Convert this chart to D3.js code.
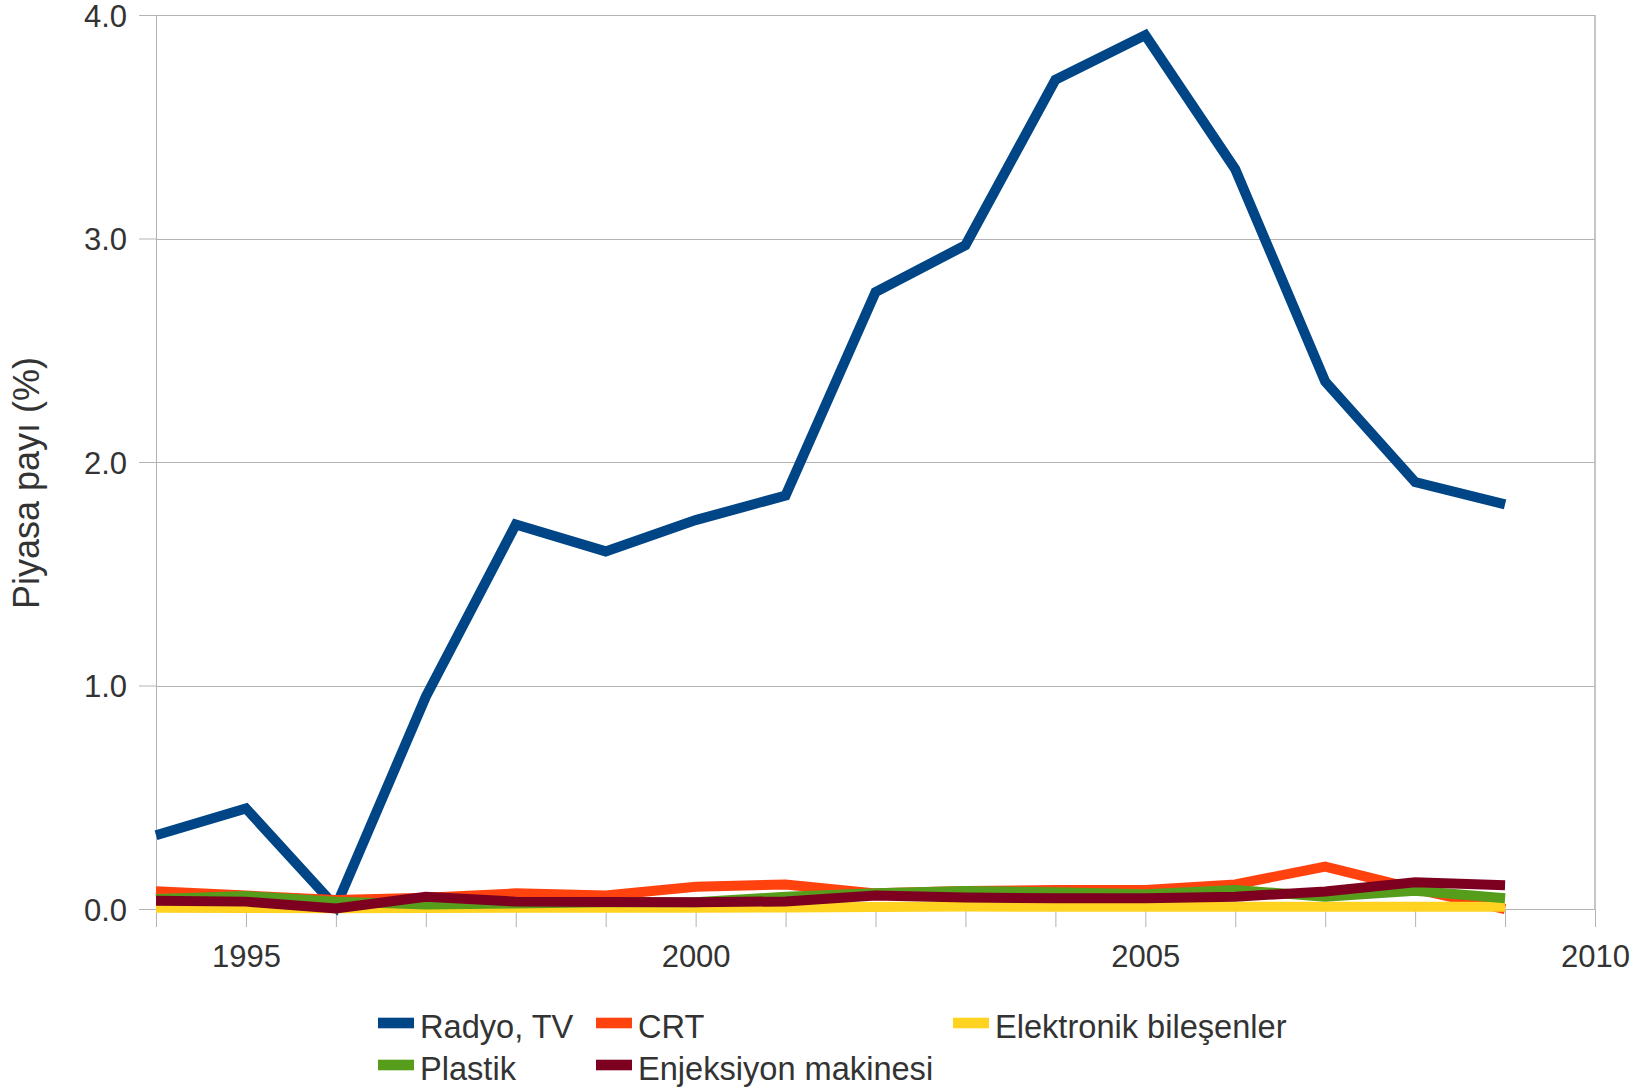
<!DOCTYPE html>
<html>
<head>
<meta charset="utf-8">
<script src="https://cdn.jsdelivr.net/npm/d3@7"></script>
<style>
  html, body { margin: 0; padding: 0; background: #ffffff; }
  svg { display: block; font-family: "Liberation Sans", Arial, sans-serif; }
</style>
</head>
<body>
<svg id="chart" width="1652" height="1088"></svg>
<script>
const years = [1994, 1995, 1996, 1997, 1998, 1999, 2000, 2001, 2002, 2003, 2004, 2005, 2006, 2007, 2008, 2009];
const seriesNames = ["Radyo, TV", "CRT", "Elektronik bileşenler", "Plastik", "Enjeksiyon makinesi"];
const seriesColors = ["#004586", "#ff420e", "#ffd320", "#579d1c", "#7e0021"];
const radyoTV    = [0.33, 0.45, 0.01, 0.95, 1.72, 1.60, 1.74, 1.85, 2.76, 2.97, 3.71, 3.91, 3.31, 2.36, 1.91, 1.81];
const crt        = [0.08, 0.06, 0.04, 0.05, 0.07, 0.06, 0.10, 0.11, 0.07, 0.08, 0.085, 0.085, 0.11, 0.19, 0.09, 0.00];
const elektronik = [0.006, 0.005, 0.003, 0.005, 0.006, 0.006, 0.006, 0.007, 0.009, 0.011, 0.010, 0.010, 0.010, 0.010, 0.010, 0.010];
const plastik    = [0.045, 0.058, 0.033, 0.02, 0.025, 0.03, 0.03, 0.055, 0.07, 0.08, 0.075, 0.066, 0.085, 0.055, 0.082, 0.048];
const enjeksiyon = [0.037, 0.033, 0.002, 0.055, 0.033, 0.031, 0.030, 0.034, 0.060, 0.052, 0.048, 0.048, 0.055, 0.078, 0.120, 0.106];
const seriesValues = [radyoTV, crt, elektronik, plastik, enjeksiyon];
const xTickYears = [1994, 1995, 1996, 1997, 1998, 1999, 2000, 2001, 2002, 2003, 2004, 2005, 2006, 2007, 2008, 2009, 2010];
const xLabelYears = [1995, 2000, 2005, 2010];
const yTicks = [0, 1, 2, 3, 4];
const yTitle = "Piyasa payı (%)";

const svg = d3.select("#chart");
const pLeft = 156, pRight = 1595, pTop = 15, pBottom = 909;
const x = d3.scaleLinear().domain([1994, 2010]).range([pLeft, pRight]);
const y = d3.scaleLinear().domain([0, 4]).range([pBottom, pTop]);
const gridColor = "#b3b3b3";
const textColor = "#333333";

// gridlines
svg.append("g").selectAll("line").data(yTicks).join("line")
  .attr("x1", pLeft).attr("x2", pRight)
  .attr("y1", d => Math.round(y(d)) + 0.5).attr("y2", d => Math.round(y(d)) + 0.5)
  .attr("stroke", gridColor).attr("stroke-width", 1);
// right frame
svg.append("line").attr("x1", pRight).attr("x2", pRight).attr("y1", pTop).attr("y2", pBottom)
  .attr("stroke", gridColor).attr("stroke-width", 1.5);

// x axis
const xAxis = d3.axisBottom(x).tickValues(xTickYears)
  .tickFormat(d => xLabelYears.includes(d) ? String(d) : "")
  .tickSize(18).tickPadding(18);
const gx = svg.append("g").attr("transform", `translate(0,${pBottom})`).call(xAxis);
gx.select(".domain").attr("stroke", gridColor).attr("d", `M${pLeft},0.5H${pRight}`);
gx.selectAll(".tick line").attr("stroke", gridColor);
gx.selectAll(".tick text").attr("fill", textColor).attr("font-size", 31)
  .attr("font-family", "Liberation Sans, Arial, sans-serif");

// y axis
const yAxis = d3.axisLeft(y).tickValues(yTicks).tickFormat(d3.format(".1f"))
  .tickSize(17).tickPadding(12);
const gy = svg.append("g").attr("transform", `translate(${pLeft},0)`).call(yAxis);
gy.select(".domain").attr("stroke", gridColor).attr("d", `M0.5,${pTop}V${pBottom + 18}`);
gy.selectAll(".tick line").attr("stroke", gridColor);
gy.selectAll(".tick text").attr("fill", textColor).attr("font-size", 31)
  .attr("dy", "0.37em")
  .attr("font-family", "Liberation Sans, Arial, sans-serif");

// y title
svg.append("text")
  .attr("transform", `translate(39,483) rotate(-90)`)
  .attr("text-anchor", "middle")
  .attr("fill", textColor).attr("font-size", 36)
  .text(yTitle);

// lines
const line = d3.line().x((d, i) => x(years[i])).y(d => y(d));
svg.append("g").selectAll("path").data(seriesValues).join("path")
  .attr("d", d => line(d))
  .attr("fill", "none")
  .attr("stroke", (d, i) => seriesColors[i])
  .attr("stroke-width", 10)
  .attr("stroke-linejoin", "miter")
  .attr("stroke-linecap", "butt");

// legend
const legendX = [378, 596, 953];
const legendY = [1023, 1065];
const lg = svg.append("g").selectAll("g").data(seriesNames).join("g")
  .attr("transform", (d, i) => `translate(${legendX[i % 3]},${legendY[Math.floor(i / 3)]})`);
lg.append("rect").attr("x", 0).attr("y", -5.3).attr("width", 36).attr("height", 10.6)
  .attr("fill", (d, i) => seriesColors[i]);
lg.append("text").attr("x", 42).attr("y", 14.5)
  .attr("fill", textColor).attr("font-size", 32.6)
  .text(d => d);
</script>
</body>
</html>
